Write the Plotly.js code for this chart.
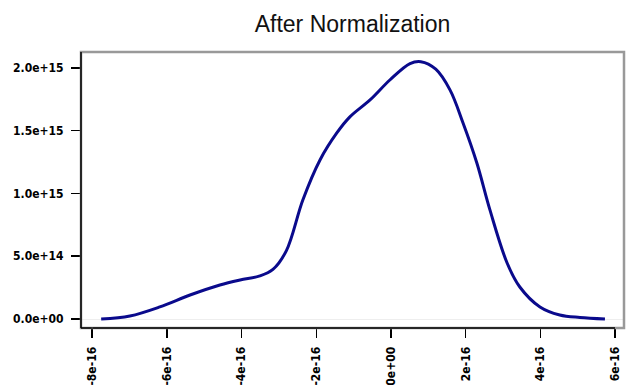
<!DOCTYPE html>
<html>
<head>
<meta charset="utf-8">
<script src="https://cdn.plot.ly/plotly-3.0.1.min.js"></script>
<style>html,body{margin:0;padding:0;background:#fff;}#chart{width:628px;height:385px;}</style>
</head>
<body>
<div id="chart"></div>
<script>
// density estimate of normalized values
var xValues = [-7.76e-16, -6.99e-16, -6.19e-16, -5.38e-16, -4.58e-16, -4.04e-16, -3.51e-16, -3.16e-16, -2.80e-16, -2.36e-16, -1.90e-16, -1.45e-16, -1.10e-16, -0.56e-16, -0.03e-16, 0.51e-16, 0.80e-16, 1.20e-16, 1.58e-16, 1.93e-16, 2.30e-16, 2.65e-16, 3.11e-16, 3.45e-16, 3.99e-16, 4.52e-16, 5.06e-16, 5.73e-16];
var yValues = [0.0, 0.024e15, 0.096e15, 0.191e15, 0.271e15, 0.311e15, 0.343e15, 0.395e15, 0.545e15, 0.948e15, 1.267e15, 1.482e15, 1.610e15, 1.745e15, 1.904e15, 2.035e15, 2.050e15, 1.990e15, 1.825e15, 1.562e15, 1.243e15, 0.869e15, 0.446e15, 0.255e15, 0.096e15, 0.032e15, 0.012e15, 0.0];
var xTickVals = [-8e-16, -6e-16, -4e-16, -2e-16, 0, 2e-16, 4e-16, 6e-16];
var xTickText = ["-8e-16", "-6e-16", "-4e-16", "-2e-16", "0e+00", "2e-16", "4e-16", "6e-16"];
var yTickVals = [0, 5e14, 1e15, 1.5e15, 2e15];
var yTickText = ["0.0e+00", "5.0e+14", "1.0e+15", "1.5e+15", "2.0e+15"];

var tickFont = {family: "DejaVu Sans Condensed, DejaVu Sans", size: 12, color: "#000", weight: "bold"};

var trace = {
  x: xValues, y: yValues, type: "scatter", mode: "lines",
  line: {color: "#0a0a8c", width: 3, shape: "spline", smoothing: 1},
  hoverinfo: "none"
};

var layout = {
  width: 628, height: 385,
  margin: {l: 81, r: 4, t: 52, b: 57},
  paper_bgcolor: "#fff", plot_bgcolor: "#fff",
  showlegend: false,
  title: {text: "After Normalization", font: {family: "Liberation Sans, Arial", size: 23, color: "#111"},
          xref: "paper", x: 0.5, xanchor: "center", yref: "container", y: 1 - 24/385, yanchor: "middle"},
  xaxis: {
    range: [-8.30e-16, 6.24e-16], tickmode: "array", tickvals: xTickVals, ticktext: xTickText,
    tickangle: -90, ticks: "outside", ticklen: 9, tickwidth: 1.5, tickcolor: "#000",
    tickfont: tickFont, showgrid: false, zeroline: false, showline: false, ticklabelstandoff: 4
  },
  yaxis: {
    range: [-0.0717e15, 2.127e15], tickmode: "array", tickvals: yTickVals, ticktext: yTickText,
    ticks: "outside", ticklen: 9, tickwidth: 1.5, tickcolor: "#000", ticklabelstandoff: 5,
    tickfont: tickFont, showgrid: false, zeroline: true, zerolinecolor: "#eeeeee", zerolinewidth: 1, showline: false
  },
  shapes: [
    {type: "rect", xref: "paper", yref: "paper", x0: 0, x1: 1, y0: 0, y1: 1, line: {color: "#999", width: 2.5}},
    {type: "line", xref: "paper", yref: "paper", x0: 0, x1: 0, y0: 0, y1: 1, line: {color: "#000", width: 1.5}},
    {type: "line", xref: "x", yref: "paper", x0: -8e-16, x1: 6e-16, y0: 0, y1: 0, line: {color: "#000", width: 1.5}},
    {type: "line", xref: "paper", yref: "paper", x0: 0, x1: 0.02, y0: 0, y1: 0, line: {color: "#000", width: 1.5}}
  ]
};

Plotly.newPlot("chart", [trace], layout, {staticPlot: true, displayModeBar: false});
</script>
</body>
</html>
